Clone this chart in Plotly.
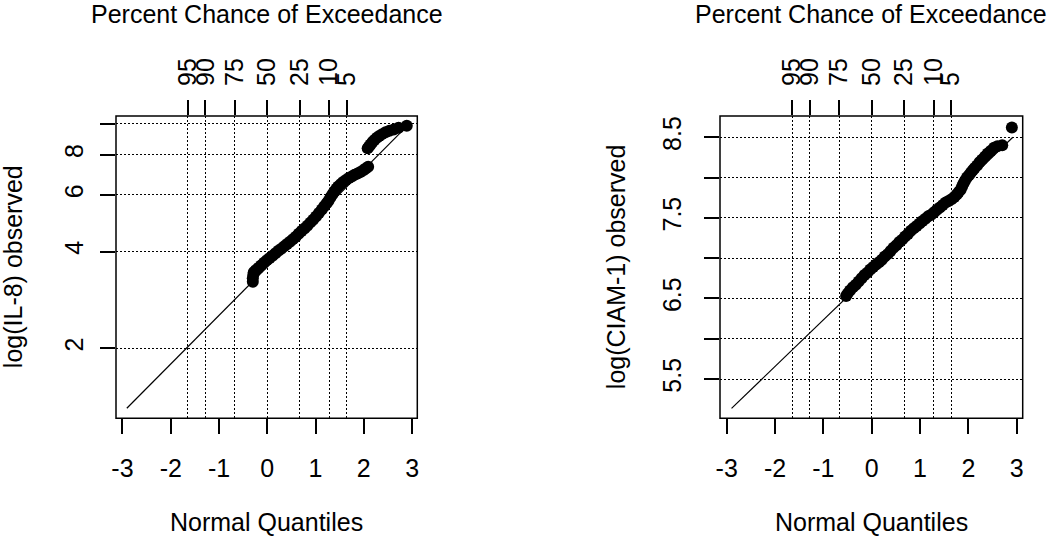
import plotly.graph_objects as go
from statistics import NormalDist

# ---------------- data ----------------
pct_labels = ["95", "90", "75", "50", "25", "10", "5"]
pct_values = [95, 90, 75, 50, 25, 10, 5]
x_ticks = [-3, -2, -1, 0, 1, 2, 3]

# Left panel: IL-8 (normal quantile, observed value on log axis)
il8_z = [-0.30, -0.30, -0.29, -0.28, -0.24, -0.19, -0.13, -0.07, -0.01, 0.05,
         0.11, 0.17, 0.23, 0.29, 0.35, 0.41, 0.47, 0.53, 0.59, 0.65,
         0.71, 0.77, 0.83, 0.89, 0.95, 1.01, 1.07, 1.13, 1.18, 1.23,
         1.27, 1.31, 1.35, 1.39, 1.43, 1.47, 1.52, 1.57, 1.63, 1.69,
         1.75, 1.81, 1.87, 1.93, 1.99, 2.04, 2.09,
         2.08, 2.11, 2.14, 2.18, 2.22, 2.27, 2.32, 2.38, 2.45, 2.53,
         2.62, 2.72, 2.89]
il8_v = [3.22, 3.30, 3.38, 3.45, 3.50, 3.55, 3.62, 3.69, 3.76, 3.82,
         3.88, 3.95, 4.02, 4.08, 4.15, 4.22, 4.29, 4.37, 4.45, 4.54,
         4.63, 4.72, 4.81, 4.92, 5.02, 5.14, 5.27, 5.41, 5.53, 5.65,
         5.76, 5.90, 6.03, 6.15, 6.27, 6.38, 6.48, 6.58, 6.68, 6.77,
         6.85, 6.93, 7.00, 7.07, 7.16, 7.25, 7.34,
         8.38, 8.50, 8.62, 8.77, 8.90, 9.04, 9.16, 9.28, 9.40, 9.50,
         9.60, 9.72, 9.85]
il8_line_z = [-2.91, 2.93]
il8_line_v = [1.30, 9.95]
il8_yticks = [2, 4, 6, 8, 10]
il8_ytext = ["2", "4", "6", "8", ""]

# Right panel: CIAM-1
ciam_z = [-0.53, -0.50, -0.45, -0.39, -0.33, -0.27, -0.21, -0.15, -0.09, -0.03,
          0.03, 0.09, 0.15, 0.21, 0.27, 0.33, 0.39, 0.45, 0.51, 0.57,
          0.63, 0.69, 0.75, 0.81, 0.87, 0.93, 0.99, 1.05, 1.11, 1.17,
          1.23, 1.29, 1.35, 1.41, 1.47, 1.53, 1.59, 1.65, 1.71, 1.76,
          1.80, 1.84, 1.87, 1.90, 1.93, 1.97, 2.01, 2.05, 2.09, 2.13,
          2.18, 2.23, 2.28, 2.34, 2.40, 2.46, 2.53, 2.60, 2.70, 2.90]
ciam_v = [6.53, 6.56, 6.60, 6.64, 6.67, 6.71, 6.75, 6.79, 6.82, 6.86,
          6.89, 6.92, 6.95, 6.98, 7.02, 7.05, 7.09, 7.13, 7.16, 7.20,
          7.23, 7.27, 7.30, 7.34, 7.37, 7.40, 7.43, 7.46, 7.49, 7.52,
          7.54, 7.57, 7.60, 7.63, 7.66, 7.69, 7.71, 7.73, 7.76, 7.79,
          7.82, 7.85, 7.89, 7.93, 7.96, 8.00, 8.03, 8.06, 8.09, 8.12,
          8.15, 8.19, 8.22, 8.26, 8.30, 8.33, 8.37, 8.39, 8.40, 8.62]
ciam_line_z = [-2.90, 2.92]
ciam_line_v = [5.137, 8.50]
ciam_yticks = [5.5, 6.0, 6.5, 7.0, 7.5, 8.0, 8.5]
ciam_ytext = ["5.5", "", "6.5", "", "7.5", "", "8.5"]

# percent chance of exceedance -> normal quantile positions
pct_quantiles = [NormalDist().inv_cdf(1 - p / 100.0) for p in pct_values]

# ---------------- figure ----------------
W, H = 1050, 537
FONT = "Liberation Sans, Arial, Helvetica, sans-serif"
FS = 25

fig = go.Figure()

# left panel
fig.add_trace(go.Scatter(x=il8_line_z, y=il8_line_v, mode="lines",
                         line=dict(color="black", width=1.2),
                         xaxis="x3", yaxis="y", hoverinfo="skip", showlegend=False))
fig.add_trace(go.Scatter(x=il8_z, y=il8_v, mode="markers",
                         marker=dict(color="black", size=12, line=dict(width=0)),
                         xaxis="x", yaxis="y", showlegend=False))
# right panel
fig.add_trace(go.Scatter(x=ciam_line_z, y=ciam_line_v, mode="lines",
                         line=dict(color="black", width=1.2),
                         xaxis="x4", yaxis="y2", hoverinfo="skip", showlegend=False))
fig.add_trace(go.Scatter(x=ciam_z, y=ciam_v, mode="markers",
                         marker=dict(color="black", size=12, line=dict(width=0)),
                         xaxis="x2", yaxis="y2", showlegend=False))

xdom_l = [116 / W, 417.3 / W]
xdom_r = [720 / W, 1022.7 / W]
ydom = [1 - 418.3 / H, 1 - 116 / H]
xr_l = [-3.134, 3.108]
xr_r = [-3.139, 3.124]

tick_common = dict(ticks="outside", ticklen=15, tickwidth=1.5, tickcolor="black",
                   showline=False, zeroline=False,
                   tickfont=dict(family=FONT, size=FS, color="black"))
grid_common = dict(showgrid=True, gridcolor="black", gridwidth=1.3, griddash="2px,2px")

def bottom_axis(dom, rng, anchor):
    return dict(domain=dom, range=rng, anchor=anchor, tickmode="array",
                tickvals=x_ticks, ticktext=[str(t) for t in x_ticks],
                showgrid=False, ticklabelstandoff=13, **tick_common)

def top_axis(over, rng, anchor):
    return dict(overlaying=over, side="top", range=rng, anchor=anchor,
                tickmode="array", tickvals=pct_quantiles, ticktext=pct_labels,
                tickangle=-90, ticklabelstandoff=9, **grid_common, **tick_common)

fig.update_layout(
    width=W, height=H,
    margin=dict(l=0, r=0, t=0, b=0, autoexpand=False),
    paper_bgcolor="white", plot_bgcolor="white",
    font=dict(family=FONT, size=FS, color="black"),
    showlegend=False,
    xaxis=bottom_axis(xdom_l, xr_l, "y"),
    xaxis2=bottom_axis(xdom_r, xr_r, "y2"),
    xaxis3=top_axis("x", xr_l, "y"),
    xaxis4=top_axis("x2", xr_r, "y2"),
    yaxis=dict(domain=ydom, anchor="x", type="log", range=[0.0827, 1.024],
               tickmode="array", tickvals=il8_yticks, ticktext=il8_ytext,
               tickangle=-90, ticklabelstandoff=7, **grid_common, **tick_common),
    yaxis2=dict(domain=ydom, anchor="x2", range=[5.013, 8.764],
                tickmode="array", tickvals=ciam_yticks, ticktext=ciam_ytext,
                tickangle=-90, ticklabelstandoff=13, **grid_common, **tick_common),
)

# plot boxes
for xr_, yr_ in (("x domain", "y domain"), ("x2 domain", "y2 domain")):
    fig.add_shape(type="rect", xref=xr_, yref=yr_, x0=0, x1=1, y0=0, y1=1,
                  line=dict(color="black", width=1.5), layer="above")

# titles
cx_l = (xdom_l[0] + xdom_l[1]) / 2
cx_r = (xdom_r[0] + xdom_r[1]) / 2
cy = (ydom[0] + ydom[1]) / 2
ann = [
    dict(text="Percent Chance of Exceedance", x=cx_l, y=1 - 14.5 / H),
    dict(text="Percent Chance of Exceedance", x=cx_r, y=1 - 14.5 / H),
    dict(text="Normal Quantiles", x=cx_l, y=1 - 521.5 / H),
    dict(text="Normal Quantiles", x=cx_r, y=1 - 521.5 / H),
    dict(text="log(IL-8) observed", x=13 / W, y=cy, textangle=-90),
    dict(text="log(CIAM-1) observed", x=616 / W, y=cy, textangle=-90),
]
for a in ann:
    fig.add_annotation(xref="paper", yref="paper", xanchor="center", yanchor="middle",
                       showarrow=False, font=dict(family=FONT, size=FS, color="black"), **a)

fig.write_html("out.html",
               config={"displayModeBar": False},
               post_script="document.body.style.margin='0';document.body.style.overflow='hidden';")
